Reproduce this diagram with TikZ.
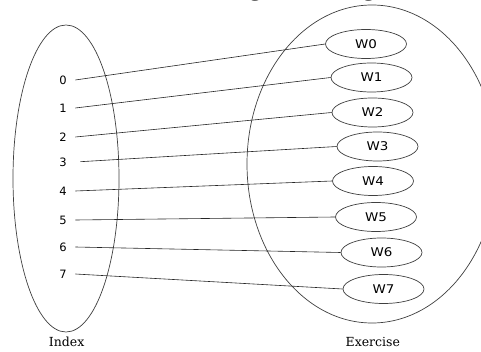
\documentclass[tikz,border=0pt]{standalone}
\usepackage{fontspec}
\setmainfont{Liberation Serif}
\newfontfamily\digitfont{DejaVu Sans}
\newfontfamily\wordfont[FakeStretch=1.12]{DejaVu Sans}
\newfontfamily\setfont{DejaVu Serif}
\usetikzlibrary{shapes.geometric}
\begin{document}
\begin{tikzpicture}[x=1pt,y=-1pt,
  setoutline/.style={draw=black!75, line width=0.7pt},
  link/.style={draw=black!85, line width=0.6pt},
  idx/.style={font=\digitfont\fontsize{11.5}{13}\selectfont, inner ysep=0pt, inner xsep=8.5pt},
  wnode/.style={ellipse, draw=black!75, line width=0.7pt, minimum width=81pt,
    minimum height=29pt, inner sep=0pt, font=\wordfont\fontsize{12}{14}\selectfont},
  setname/.style={font=\setfont\fontsize{12.5}{14}\selectfont, inner sep=0pt, anchor=base},
  runningtext/.style={font=\fontsize{26}{30}\selectfont, inner sep=0pt}]
\useasboundingbox (0,0) rectangle (481,352);
\clip (0,0) rectangle (481,352);
\fill[white] (0,0) rectangle (481,352);

% line of body text above the figure, cut by the frame
\node[runningtext, anchor=base east] (texta) at (262,-4) {values are shown in following};
\node[runningtext, anchor=base west] (textb) at (270.4,-4) {Venn diagram.};

% the two sets
\draw[setoutline] (66,178.5) ellipse [x radius=53pt, y radius=153.5pt];
\draw[setoutline] (372,164) ellipse [x radius=125pt, y radius=159pt];

% index values
\node[idx] (d0) at (63,80) {0};
\node[idx] (d1) at (63,108) {1};
\node[idx] (d2) at (63,137) {2};
\node[idx] (d3) at (63,162) {3};
\node[idx] (d4) at (63,191) {4};
\node[idx] (d5) at (63,220) {5};
\node[idx] (d6) at (63,247) {6};
\node[idx] (d7) at (63,274) {7};

% exercise values
\node[wnode] (w0) at (366,44) {W0};
\node[wnode] (w1) at (371.5,77.5) {W1};
\node[wnode] (w2) at (372.5,112.5) {W2};
\node[wnode] (w3) at (377.5,146.5) {W3};
\node[wnode] (w4) at (373,181) {W4};
\node[wnode] (w5) at (376,217) {W5};
\node[wnode] (w6) at (381.5,252.5) {W6};
\node[wnode] (w7) at (383.5,289) {W7};

% mapping
\draw[link] (d0.east) -- (w0.west);
\draw[link] (d1.east) -- (w1.west);
\draw[link] (d2.east) -- (w2.west);
\draw[link, shorten <=5pt] (d3.east) -- (w3.west);
\draw[link] (d4.east) -- (w4.west);
\draw[link] (d5.east) -- (w5.west);
\draw[link] (d6.east) -- (w6.west);
\draw[link] (d7.east) -- (w7.west);

% set names
\node[setname] (idxname) at (66.7,346.7) {Index};
\node[setname] (exname) at (372.8,346.7) {Exercise};
\end{tikzpicture}
\end{document}
